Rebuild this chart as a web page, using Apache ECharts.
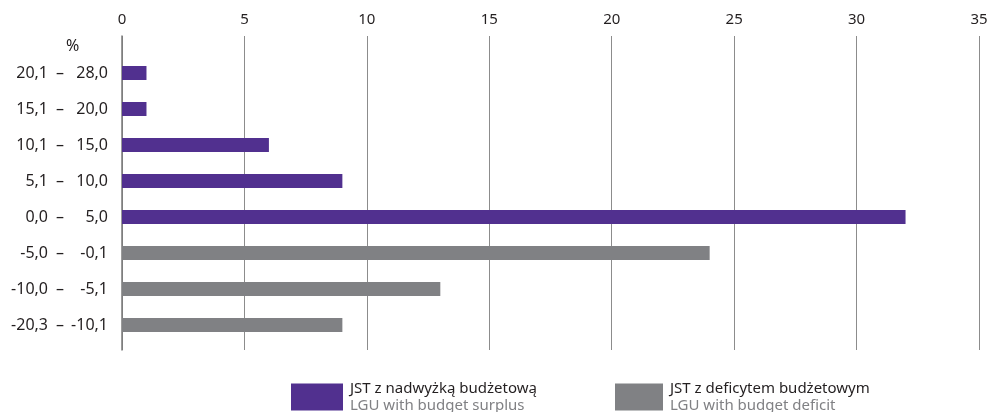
<!DOCTYPE html>
<html>
<head>
<meta charset="utf-8">
<style>
  html, body { margin: 0; padding: 0; background: #ffffff; }
  #chart { width: 992px; height: 412px; }
</style>
<script src="https://cdn.jsdelivr.net/npm/echarts@6/dist/echarts.min.js"></script>
</head>
<body>
<div id="chart"></div>
<script>
// Balance ranges (%), listed top to bottom: lower and upper bound
const rangeFrom = ['20,1', '15,1', '10,1', '5,1', '0,0', '-5,0', '-10,0', '-20,3'];
const rangeTo   = ['28,0', '20,0', '15,0', '10,0', '5,0', '-0,1', '-5,1', '-10,1'];
const categories = rangeFrom.map((f, i) => f + ' – ' + rangeTo[i]);

// Number of units in each range
const surplusValues = [1, 1, 6, 9, 32, '-', '-', '-'];
const deficitValues = ['-', '-', '-', '-', '-', 24, 13, 9];

const seriesNames = ['JST z nadwyżką budżetową', 'JST z deficytem budżetowym'];
const seriesNamesEn = ['LGU with budget surplus', 'LGU with budget deficit'];

const xTicks = { min: 0, max: 35, interval: 5 };

const PURPLE = '#51308f';
const GREY = '#808184';
const TEXT = '#231f20';
const FONT = 'Noto Sans';
const LABEL_SIZE = 16;

const chart = echarts.init(document.getElementById('chart'));

function legendFormatter(name) {
  const i = seriesNames.indexOf(name);
  return '{pl|' + name + '}\n{en|' + seriesNamesEn[i] + '}';
}
const legendRich = {
  pl: { fontFamily: FONT, fontSize: 15, color: TEXT, lineHeight: 17 },
  en: { fontFamily: FONT, fontSize: 15, color: GREY, lineHeight: 17 }
};

// Range labels are drawn as three right-aligned columns: lower bound, dash, upper bound
function rangeAxis(margin, pick) {
  return {
    gridIndex: 0, type: 'category', inverse: true, data: categories,
    position: 'left',
    axisLine: { show: false }, axisTick: { show: false }, splitLine: { show: false },
    axisLabel: {
      margin: margin, align: 'right',
      fontFamily: FONT, fontSize: LABEL_SIZE, color: TEXT,
      formatter: function (v, i) { return pick(i); }
    }
  };
}

chart.setOption({
  animation: false,
  textStyle: { fontFamily: FONT },
  grid: [
    { left: 122, right: 13, top: 55, bottom: 69 },
    { left: 122, right: 13, top: 36, bottom: 62 }
  ],
  xAxis: [
    {
      gridIndex: 0, type: 'value',
      min: xTicks.min, max: xTicks.max, interval: xTicks.interval,
      axisLine: { show: false }, axisTick: { show: false },
      axisLabel: { show: false }, splitLine: { show: false }
    },
    {
      gridIndex: 1, type: 'value', position: 'top',
      min: xTicks.min, max: xTicks.max, interval: xTicks.interval,
      axisLine: { show: false }, axisTick: { show: false },
      axisLabel: { color: TEXT, fontSize: 15, margin: 9, fontFamily: FONT },
      splitLine: { show: true, lineStyle: { color: '#8c8c8c', width: 1 } }
    }
  ],
  yAxis: [
    rangeAxis(14, i => rangeTo[i]),
    rangeAxis(58, () => '–'),
    rangeAxis(74, i => rangeFrom[i]),
    {
      gridIndex: 1, type: 'value', min: 0, max: 1,
      axisLine: { show: true, lineStyle: { color: '#7a7a7a', width: 1.5 } },
      axisTick: { show: false }, axisLabel: { show: false }, splitLine: { show: false }
    }
  ],
  legend: [
    {
      data: [seriesNames[0]], left: 291, top: 381, padding: 0,
      itemWidth: 52, itemHeight: 27, itemGap: 0, icon: 'rect',
      formatter: legendFormatter, textStyle: { rich: legendRich, padding: [0, 0, 0, 2] }
    },
    {
      data: [seriesNames[1]], left: 615, top: 381, padding: 0,
      itemWidth: 48, itemHeight: 27, itemGap: 0, icon: 'rect',
      formatter: legendFormatter, textStyle: { rich: legendRich, padding: [0, 0, 0, 2] }
    }
  ],
  graphic: [
    {
      type: 'text', left: 66, top: 38,
      style: { text: '%', fontSize: LABEL_SIZE, fill: TEXT, fontFamily: FONT }
    }
  ],
  series: [
    {
      name: seriesNames[0], type: 'bar', xAxisIndex: 0, yAxisIndex: 0,
      stack: 'range', barWidth: 14, data: surplusValues,
      itemStyle: { color: PURPLE }, z: 5
    },
    {
      name: seriesNames[1], type: 'bar', xAxisIndex: 0, yAxisIndex: 0,
      stack: 'range', barWidth: 14, data: deficitValues,
      itemStyle: { color: GREY }, z: 5
    }
  ]
});
</script>
</body>
</html>
